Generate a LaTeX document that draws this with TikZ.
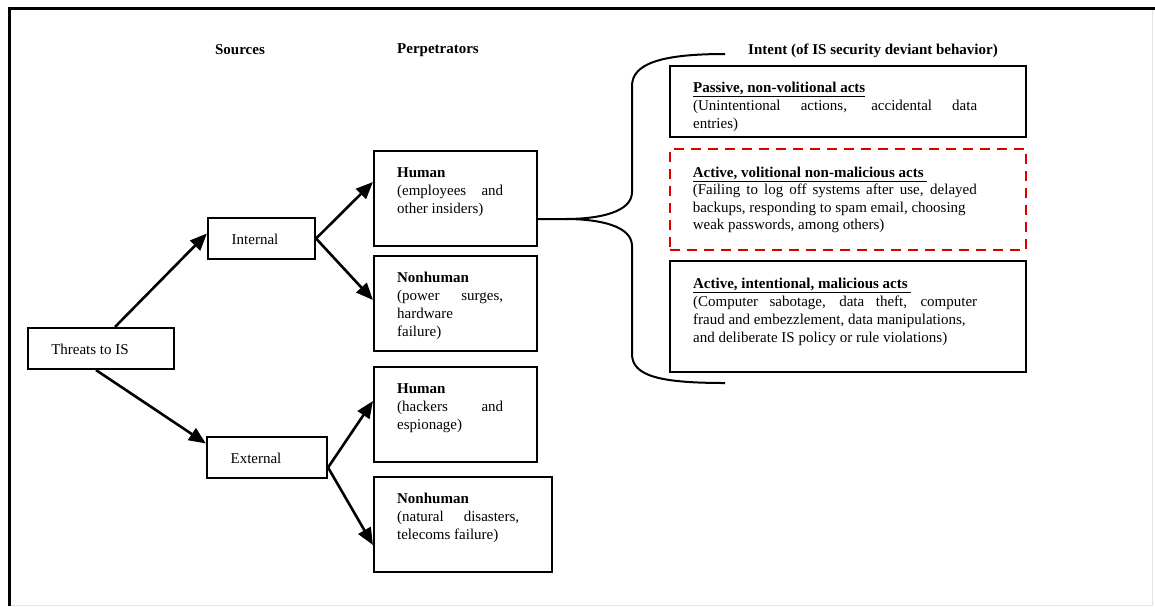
\documentclass[tikz,border=0pt]{standalone}
\usepackage{fontspec}
\setmainfont{Liberation Serif}
\usetikzlibrary{arrows.meta}
% a line stretched to the full text width
\newcommand{\fullline}[1]{\makebox[\hsize][s]{\spaceskip=0pt\xspaceskip=0pt #1}}
\begin{document}
\begin{tikzpicture}[x=1pt,y=-1pt,
  every node/.style={font=\fontsize{15}{18}\selectfont},
  box/.style={draw, line width=2.1pt, inner sep=0pt},
  txt/.style={inner sep=0pt, anchor=north west, align=justify},
  head/.style={font=\fontsize{15}{18}\selectfont\bfseries, inner sep=0pt},
  arr/.style={line width=2.6pt, -{Triangle[length=17pt,width=14pt]}},
  brace/.style={line width=2pt},
  redbox/.style={draw=red!85!black, line width=2.8pt, dash pattern=on 10pt off 7pt, inner sep=0pt}]

% canvas and frame
\useasboundingbox (0,0) rectangle (1155,606);
\fill[white] (0,0) rectangle (1155,606);
\draw[gray!20, line width=1pt] (1152,8) -- (1152,605) -- (9,605);
\draw[line width=3pt] (9,606) -- (9,8) -- (1155,8);

% column headings
\node[head] (hsrc) at (240,50) {Sources};
\node[head] (hperp) at (438,50) {Perpetrators};
\node[head] (hint) at (873,51) {Intent (of IS security deviant behavior)};

% sources
\node[box, minimum width=146pt, minimum height=41pt] (thr) at (101,348.5) {};
\node[inner sep=0pt] (thrt) at (90,349) {Threats to IS};
\node[box, minimum width=107pt, minimum height=41pt] (int) at (261.5,238.5) {};
\node[inner sep=0pt] (intt) at (255,239) {Internal};
\node[box, minimum width=120pt, minimum height=41pt] (ext) at (267,457.5) {};
\node[inner sep=0pt] (extt) at (256,458) {External};

% perpetrators
\node[box, minimum width=163pt, minimum height=95pt] (hi) at (455.5,198.5) {};
\node[txt, text width=106pt] (hit) at ([xshift=24pt,yshift=-18pt]hi.north west)
  {\textbf{Human}\\\fullline{(employees and}\\other insiders)};
\node[box, minimum width=163pt, minimum height=95pt] (nhi) at (455.5,303.5) {};
\node[txt, text width=106pt] (nhit) at ([xshift=24pt,yshift=-17pt]nhi.north west)
  {\textbf{Nonhuman}\\\fullline{(power surges,}\\hardware\\failure)};
\node[box, minimum width=163pt, minimum height=95pt] (he) at (455.5,414.5) {};
\node[txt, text width=106pt] (het) at ([xshift=24pt,yshift=-18pt]he.north west)
  {\textbf{Human}\\\fullline{(hackers and}\\espionage)};
\node[box, minimum width=178pt, minimum height=95pt] (nhe) at (463,524.5) {};
\node[txt, text width=122pt] (nhet) at ([xshift=24pt,yshift=-17pt]nhe.north west)
  {\textbf{Nonhuman}\\\fullline{(natural disasters,}\\telecoms failure)};

% intent categories
\node[box, minimum width=356pt, minimum height=71pt] (pas) at (848,101.5) {};
\node[txt, text width=284pt] (past) at ([xshift=24pt,yshift=-17pt]pas.north west)
  {\underline{\textbf{Passive, non-volitional acts}}\\
   \fullline{(Unintentional actions, accidental data}\\entries)};
\node[redbox, minimum width=356pt, minimum height=101pt] (vol) at (848,199.5) {};
\node[txt, text width=284pt] (volt) at ([xshift=24pt,yshift=-19pt]vol.north west)
  {\underline{\textbf{Active, volitional non-malicious acts}\ }\\[-0.5pt]
   \fullline{(Failing to log off systems after use, delayed}\\[-0.5pt]
   backups, responding to spam email, choosing\\[-0.5pt]
   weak passwords, among others)};
\node[box, minimum width=356pt, minimum height=111pt] (mal) at (848,316.5) {};
\node[txt, text width=284pt] (malt) at ([xshift=24pt,yshift=-18pt]mal.north west)
  {\underline{\textbf{Active, intentional, malicious acts}\ }\\
   \fullline{(Computer sabotage, data theft, computer}\\
   fraud and embezzlement, data manipulations,\\
   and deliberate IS policy or rule violations)};

% arrows
\draw[arr] ([xshift=14pt]thr.north) -- ([yshift=5pt]int.west);
\draw[arr] ([xshift=-5pt]thr.south) -- ([yshift=14pt]ext.west);
\draw[arr] (int.east) -- ([yshift=16.5pt]hi.west);
\draw[arr] (int.east) -- ([yshift=3.5pt]nhi.west);
\draw[arr] ([yshift=-10pt]ext.east) -- ([yshift=13.5pt]he.west);
\draw[arr] ([yshift=-10pt]ext.east) -- ([yshift=-20.5pt]nhe.west);

% brace grouping the intent categories
\coordinate (bj) at (565,219);
\coordinate (btop) at (725,54);
\coordinate (bbot) at (725,383);
\draw[brace] ([yshift=-20.5pt]hi.east) -- (bj)
  .. controls (600,219) and (632,212) .. (632,192) -- (632,86)
  .. controls (632,64) and (660,54) .. (btop);
\draw[brace] (bj)
  .. controls (600,219) and (632,226) .. (632,246) -- (632,354)
  .. controls (632,376) and (660,383) .. (bbot);
\end{tikzpicture}
\end{document}
